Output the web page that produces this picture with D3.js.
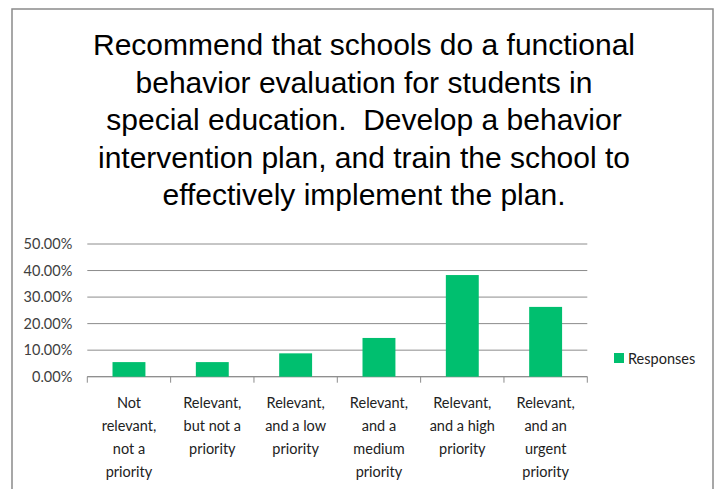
<!DOCTYPE html>
<html><head><meta charset="utf-8">
<script src="https://cdn.jsdelivr.net/npm/d3@7"></script>
<style>body{margin:0;background:#fff}svg{display:block}</style>
</head><body>
<script>
const titleLines = [
  "Recommend that schools do a functional",
  "behavior evaluation for students in",
  "special education.  Develop a behavior",
  "intervention plan, and train the school to",
  "effectively implement the plan."
];
const categories = [
  ["Not", "relevant,", "not a", "priority"],
  ["Relevant,", "but not a", "priority"],
  ["Relevant,", "and a low", "priority"],
  ["Relevant,", "and a", "medium", "priority"],
  ["Relevant,", "and a high", "priority"],
  ["Relevant,", "and an", "urgent", "priority"]
];
const values = [0.055, 0.055, 0.088, 0.146, 0.383, 0.263];
const yTicks = [0, 0.1, 0.2, 0.3, 0.4, 0.5];
const seriesName = "Responses";

const W = 715, H = 489;
const svg = d3.select("body").append("svg").attr("width", W).attr("height", H);

// frame
svg.append("rect").attr("x", 12).attr("y", 9).attr("width", 701).attr("height", 500)
  .attr("fill", "none").attr("stroke", "#8a8a8a").attr("stroke-width", 1.5);

// title
svg.append("g").selectAll("text").data(titleLines).join("text")
  .attr("x", 364).attr("y", (d, i) => 55 + i * 37.5)
  .attr("text-anchor", "middle")
  .attr("font-family", "Liberation Sans, Arial, sans-serif")
  .attr("font-size", 30).attr("fill", "#000")
  .style("white-space", "pre")
  .text(d => d);

const pLeft = 87.3, pRight = 587.3, pTop = 244, pBottom = 376.7;
const x = d3.scaleBand().domain(d3.range(categories.length)).range([pLeft, pRight]).padding(0);
const y = d3.scaleLinear().domain([0, 0.5]).range([pBottom, pTop]);

// gridlines
svg.append("g").selectAll("line").data(yTicks).join("line")
  .attr("x1", pLeft).attr("x2", pRight)
  .attr("y1", d => y(d)).attr("y2", d => y(d))
  .attr("stroke", "#8c8c8c").attr("stroke-width", 1);

// y axis
const yAxis = svg.append("g").attr("transform", `translate(${pLeft},0)`)
  .call(d3.axisLeft(y).tickValues(yTicks).tickFormat(d3.format(".2%")).tickSize(0).tickPadding(15));
yAxis.select(".domain").remove();
yAxis.selectAll("text").attr("font-family", "Lato, sans-serif").attr("font-size", 14.5).attr("fill", "#404040");

// x axis ticks between categories
const boundaries = d3.range(categories.length + 1).map(i => pLeft + i * x.step());
svg.append("g").selectAll("line").data(boundaries).join("line")
  .attr("x1", d => d).attr("x2", d => d)
  .attr("y1", pBottom).attr("y2", pBottom + 6)
  .attr("stroke", "#8c8c8c");
svg.append("line").attr("x1", pLeft).attr("x2", pRight).attr("y1", pBottom).attr("y2", pBottom)
  .attr("stroke", "#8c8c8c");

// bars
const bw = x.bandwidth() * 0.395;
svg.append("g").selectAll("rect").data(values).join("rect")
  .attr("x", (d, i) => x(i) + x.bandwidth() / 2 - bw / 2)
  .attr("y", d => y(d))
  .attr("width", bw)
  .attr("height", d => pBottom - y(d))
  .attr("fill", "#00BF6F");

// x labels
const xl = svg.append("g");
categories.forEach((lines, i) => {
  xl.append("text")
    .attr("text-anchor", "middle")
    .attr("font-family", "Lato, sans-serif").attr("font-size", 14.5).attr("fill", "#222")
    .selectAll("tspan").data(lines).join("tspan")
    .attr("x", x(i) + x.bandwidth() / 2)
    .attr("y", (d, j) => 408 + j * 23)
    .text(d => d);
});

// legend
svg.append("rect").attr("x", 614).attr("y", 353).attr("width", 10).attr("height", 10).attr("fill", "#00BF6F");
svg.append("text").attr("x", 628).attr("y", 364)
  .attr("font-family", "Lato, sans-serif").attr("font-size", 14.5).attr("fill", "#222")
  .text(seriesName);
</script>
</body></html>
